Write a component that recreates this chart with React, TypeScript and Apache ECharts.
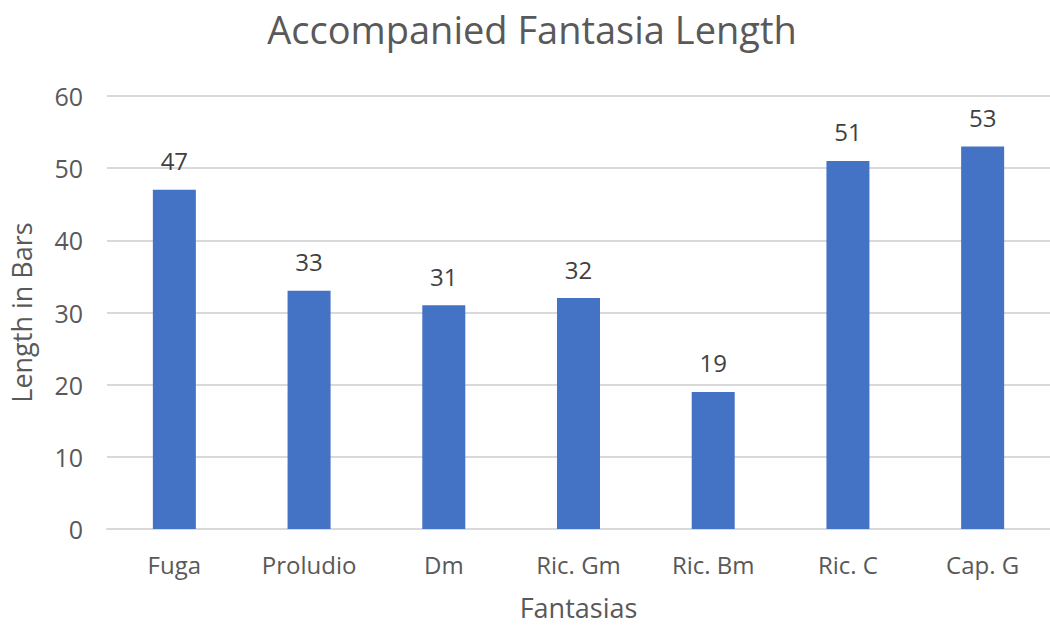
import React, { useEffect, useRef } from "react";
import * as echarts from "echarts";

const categories = ["Fuga", "Proludio", "Dm", "Ric. Gm", "Ric. Bm", "Ric. C", "Cap. G"];
const lengths = [47, 33, 31, 32, 19, 51, 53];
const yTicks = { min: 0, max: 60, interval: 10 };

const FONT = "'Open Sans', 'Noto Sans', sans-serif";

export default function App() {
  const ref = useRef<HTMLDivElement>(null);
  useEffect(() => {
    if (!ref.current) return;
    const chart = echarts.init(ref.current, null, { renderer: "svg" });
    chart.setOption({
      animation: false,
      backgroundColor: "#ffffff",
      title: {
        text: "Accompanied Fantasia Length",
        left: 527,
        top: 5,
        textAlign: "center",
        textStyle: { fontFamily: FONT, fontSize: 38, fontWeight: "normal", color: "#595959" },
      },
      grid: { left: 105, right: -7, top: 96, bottom: 93, containLabel: false },
      xAxis: {
        type: "category",
        data: categories,
        name: "Fantasias",
        nameLocation: "middle",
        nameGap: 65,
        nameTextStyle: { fontFamily: FONT, fontSize: 27, color: "#595959" },
        axisLine: { lineStyle: { color: "#d9d9d9", width: 2 } },
        axisTick: { show: false },
        axisLabel: { fontFamily: FONT, fontSize: 24, color: "#595959", margin: 23 },
      },
      yAxis: {
        type: "value",
        min: yTicks.min,
        max: yTicks.max,
        interval: yTicks.interval,
        name: "Length in Bars",
        nameLocation: "middle",
        nameGap: 72,
        nameTextStyle: { fontFamily: FONT, fontSize: 27, color: "#595959" },
        axisLine: { show: false },
        axisTick: { show: false },
        axisLabel: { fontFamily: FONT, fontSize: 25, color: "#595959", margin: 24 },
        splitLine: { lineStyle: { color: "#d9d9d9", width: 2 } },
      },
      series: [
        {
          type: "bar",
          data: lengths,
          barWidth: 43,
          itemStyle: { color: "#4472c4" },
          label: {
            show: true,
            position: "top",
            distance: 17,
            fontFamily: FONT,
            fontSize: 24,
            color: "#404040",
          },
        },
      ],
    });
    return () => chart.dispose();
  }, []);
  return (
    <div
      ref={ref}
      style={{ position: "fixed", left: 0, top: 0, width: 1050, height: 626 }}
    />
  );
}
